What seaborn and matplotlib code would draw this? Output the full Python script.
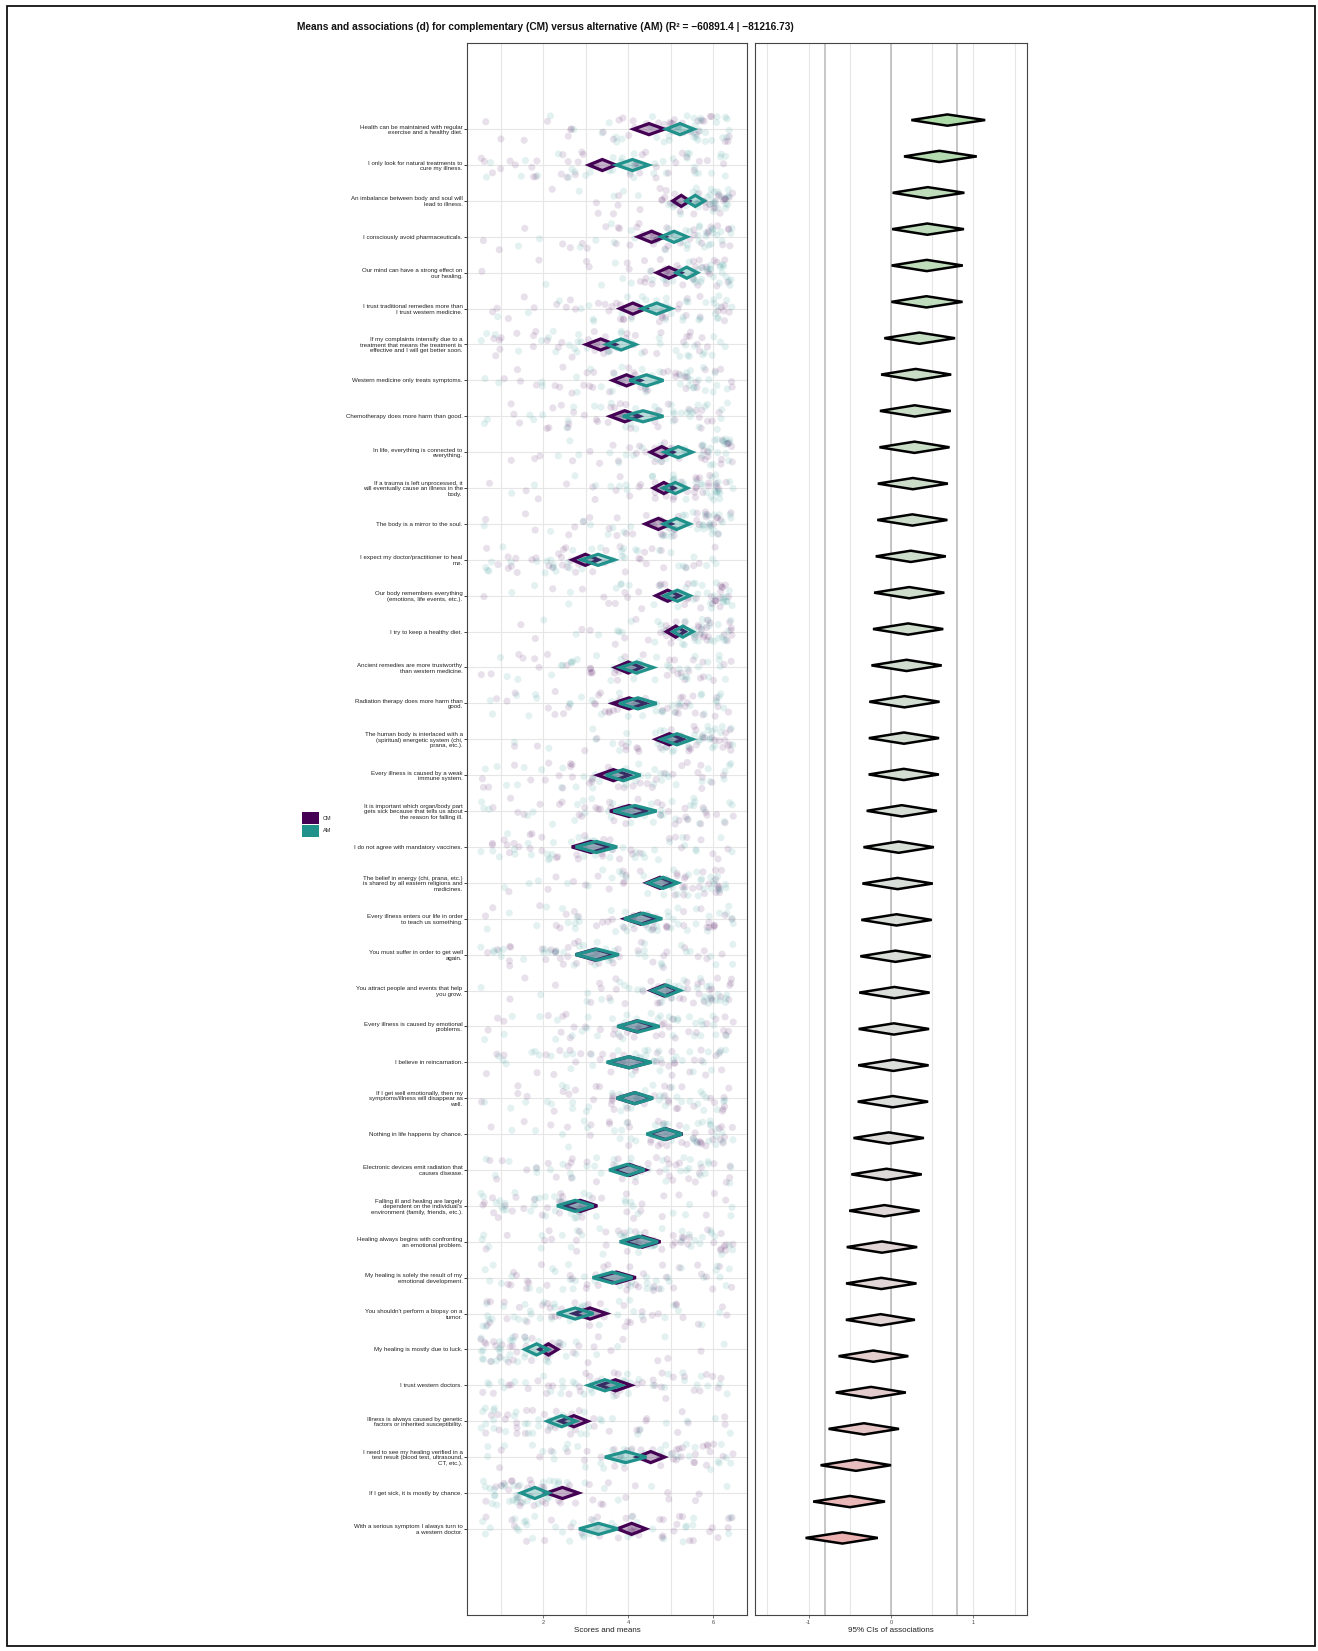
import numpy as np
import pandas as pd
import matplotlib
matplotlib.use("Agg")
import matplotlib.pyplot as plt
from matplotlib.patches import Polygon, Patch, Rectangle
from matplotlib.colors import LinearSegmentedColormap, TwoSlopeNorm, to_rgba
import seaborn as sns

sns.set_theme(style="white")
plt.rcParams["font.family"] = ["Liberation Sans", "DejaVu Sans"]
plt.rcParams["axes.unicode_minus"] = False

# ---------------------------------------------------------------- data
items = [
    "Health can be maintained with regular\nexercise and a healthy diet.",
    "I only look for natural treatments to\ncure my illness.",
    "An imbalance between body and soul will\nlead to illness.",
    "I consciously avoid pharmaceuticals.",
    "Our mind can have a strong effect on\nour healing.",
    "I trust traditional remedies more than\nI trust western medicine.",
    "If my complaints intensify due to a\ntreatment that means the treatment is\neffective and I will get better soon.",
    "Western medicine only treats symptoms.",
    "Chemotherapy does more harm than good.",
    "In life, everything is connected to\neverything.",
    "If a trauma is left unprocessed, it\nwill eventually cause an illness in the\nbody.",
    "The body is a mirror to the soul.",
    "I expect my doctor/practitioner to heal\nme.",
    "Our body remembers everything\n(emotions, life events, etc.).",
    "I try to keep a healthy diet.",
    "Ancient remedies are more trustworthy\nthan western medicine.",
    "Radiation therapy does more harm than\ngood.",
    "The human body is interlaced with a\n(spiritual) energetic system (chi,\nprana, etc.).",
    "Every illness is caused by a weak\nimmune system.",
    "It is important which organ/body part\ngets sick because that tells us about\nthe reason for falling ill.",
    "I do not agree with mandatory vaccines.",
    "The belief in energy (chi, prana, etc.)\nis shared by all eastern religions and\nmedicines.",
    "Every illness enters our life in order\nto teach us something.",
    "You must suffer in order to get well\nagain.",
    "You attract people and events that help\nyou grow.",
    "Every illness is caused by emotional\nproblems.",
    "I believe in reincarnation.",
    "If I get well emotionally, then my\nsymptoms/illness will disappear as\nwell.",
    "Nothing in life happens by chance.",
    "Electronic devices emit radiation that\ncauses disease.",
    "Falling ill and healing are largely\ndependent on the individual's\nenvironment (family, friends, etc.).",
    "Healing always begins with confronting\nan emotional problem.",
    "My healing is solely the result of my\nemotional development.",
    "You shouldn't perform a biopsy on a\ntumor.",
    "My healing is mostly due to luck.",
    "I trust western doctors.",
    "Illness is always caused by genetic\nfactors or inherited susceptibility.",
    "I need to see my healing verified in a\ntest result (blood test, ultrasound,\nCT, etc.).",
    "If I get sick, it is mostly by chance.",
    "With a serious symptom I always turn to\na western doctor.",
]

groups = ["CM", "AM"]
levels = [1, 2, 3, 4, 5, 6]

# group means and half-widths of their confidence intervals
cm_mean = [4.49, 3.39, 5.25, 4.55, 4.96, 4.11, 3.35, 3.96, 3.92, 4.79,
           4.84, 4.71, 2.99, 4.93, 5.12, 4.00, 4.02, 4.97, 3.65, 4.02,
           3.12, 4.75, 4.29, 3.22, 4.85, 4.20, 4.02, 4.15, 4.88, 4.03,
           2.87, 4.33, 3.72, 3.10, 2.12, 3.70, 2.72, 4.53, 2.45, 4.08]
am_mean = [5.22, 4.10, 5.58, 5.08, 5.38, 4.67, 3.83, 4.43, 4.35, 5.18,
           5.11, 5.14, 3.29, 5.16, 5.29, 4.20, 4.23, 5.15, 3.88, 4.16,
           3.25, 4.82, 4.35, 3.27, 4.90, 4.24, 4.02, 4.16, 4.85, 3.97,
           2.75, 4.25, 3.63, 2.75, 1.84, 3.45, 2.43, 3.94, 1.80, 3.30]
cm_ci = [0.365, 0.32, 0.20, 0.325, 0.29, 0.31, 0.345, 0.33, 0.35, 0.27,
         0.25, 0.31, 0.31, 0.28, 0.22, 0.31, 0.39, 0.32, 0.37, 0.45,
         0.45, 0.32, 0.38, 0.46, 0.32, 0.43, 0.50, 0.42, 0.40, 0.38,
         0.40, 0.43, 0.46, 0.39, 0.22, 0.37, 0.33, 0.33, 0.38, 0.34]
am_ci = [0.33, 0.38, 0.22, 0.31, 0.255, 0.35, 0.345, 0.40, 0.48, 0.33,
         0.29, 0.31, 0.39, 0.30, 0.235, 0.39, 0.44, 0.37, 0.41, 0.51,
         0.49, 0.35, 0.45, 0.51, 0.33, 0.50, 0.53, 0.43, 0.42, 0.42,
         0.43, 0.45, 0.47, 0.43, 0.28, 0.39, 0.34, 0.49, 0.33, 0.46]

# answer counts per response level (1..6) for each statement
cm_counts = [
    [2, 2, 4, 7, 11, 10], [6, 6, 7, 7, 6, 4], [0, 1, 2, 4, 10, 19], [2, 2, 4, 7, 10, 11],
    [1, 1, 2, 6, 11, 15], [3, 3, 5, 8, 9, 8], [6, 6, 7, 7, 6, 4], [3, 4, 6, 8, 8, 7],
    [3, 4, 6, 9, 7, 7], [1, 2, 3, 6, 10, 14], [1, 2, 3, 5, 10, 15], [1, 2, 4, 6, 10, 13],
    [7, 8, 8, 6, 4, 3], [1, 1, 2, 6, 11, 15], [1, 1, 2, 4, 10, 18], [3, 4, 6, 8, 8, 7],
    [3, 4, 6, 7, 9, 7], [1, 1, 2, 6, 11, 15], [4, 5, 7, 8, 6, 6], [3, 4, 6, 7, 9, 7],
    [7, 7, 8, 6, 4, 4], [1, 2, 3, 6, 11, 13], [2, 3, 5, 8, 9, 9], [6, 7, 8, 6, 5, 4],
    [1, 2, 3, 5, 10, 15], [3, 3, 5, 8, 9, 8], [3, 4, 6, 7, 9, 7], [3, 3, 5, 8, 9, 8],
    [1, 2, 3, 5, 10, 15], [3, 4, 6, 7, 9, 7], [8, 9, 8, 5, 3, 3], [2, 3, 5, 7, 10, 9],
    [4, 5, 7, 7, 7, 6], [7, 8, 7, 6, 5, 3], [14, 12, 5, 2, 2, 1], [4, 5, 7, 7, 7, 6],
    [9, 9, 8, 5, 3, 2], [2, 2, 4, 7, 10, 11], [11, 11, 7, 3, 2, 2], [3, 3, 6, 8, 9, 7],
]
am_counts = [
    [0, 1, 2, 4, 10, 19], [3, 3, 6, 8, 8, 8], [0, 0, 1, 3, 7, 25], [1, 1, 2, 4, 11, 17],
    [0, 1, 1, 3, 9, 22], [1, 2, 4, 6, 11, 12], [4, 4, 7, 7, 7, 7], [2, 2, 4, 8, 10, 10],
    [2, 3, 5, 7, 10, 9], [0, 1, 2, 5, 10, 18], [1, 1, 2, 4, 10, 18], [1, 1, 2, 4, 10, 18],
    [6, 7, 7, 7, 5, 4], [1, 1, 2, 4, 10, 18], [0, 1, 2, 4, 9, 20], [3, 3, 5, 8, 9, 8],
    [3, 3, 5, 7, 10, 8], [1, 1, 2, 4, 11, 17], [4, 4, 6, 8, 7, 7], [3, 3, 5, 8, 9, 8],
    [6, 7, 7, 7, 5, 4], [1, 2, 3, 6, 10, 14], [2, 3, 5, 7, 10, 9], [6, 7, 7, 7, 5, 4],
    [1, 1, 3, 6, 10, 15], [3, 3, 5, 7, 9, 9], [3, 4, 5, 8, 9, 7], [2, 4, 5, 8, 9, 8],
    [1, 2, 3, 6, 9, 15], [3, 4, 6, 8, 8, 7], [9, 9, 8, 5, 3, 2], [3, 3, 5, 7, 9, 9],
    [5, 5, 7, 7, 6, 6], [9, 9, 8, 5, 3, 2], [18, 11, 4, 1, 1, 1], [5, 6, 7, 8, 5, 5],
    [11, 11, 7, 3, 2, 2], [3, 4, 6, 8, 8, 7], [18, 12, 3, 1, 1, 1], [6, 7, 7, 7, 5, 4],
]

# standardized association d with 95% CI bounds
d_est = [0.684, 0.587, 0.446, 0.440, 0.434, 0.430, 0.344, 0.300, 0.288, 0.285,
         0.265, 0.259, 0.240, 0.221, 0.208, 0.189, 0.163, 0.157, 0.155, 0.131,
         0.093, 0.080, 0.067, 0.055, 0.042, 0.035, 0.029, 0.023, -0.028, -0.054,
         -0.080, -0.110, -0.118, -0.125, -0.215, -0.243, -0.328, -0.425, -0.498, -0.590]
d_lo = [0.247, 0.158, 0.020, 0.015, 0.008, 0.005, -0.081, -0.120, -0.134, -0.140,
        -0.160, -0.166, -0.185, -0.205, -0.218, -0.237, -0.263, -0.269, -0.271, -0.295,
        -0.334, -0.347, -0.360, -0.372, -0.385, -0.392, -0.398, -0.404, -0.455, -0.481,
        -0.507, -0.537, -0.545, -0.547, -0.636, -0.670, -0.757, -0.854, -0.944, -1.036]
d_hi = [1.142, 1.040, 0.890, 0.885, 0.871, 0.868, 0.777, 0.730, 0.725, 0.710,
        0.690, 0.684, 0.665, 0.647, 0.634, 0.615, 0.589, 0.583, 0.581, 0.557,
        0.520, 0.507, 0.494, 0.482, 0.469, 0.462, 0.456, 0.450, 0.399, 0.373,
        0.347, 0.317, 0.309, 0.290, 0.210, 0.180, 0.097, 0.000, -0.073, -0.160]

title = ("Means and associations (d) for complementary (CM) versus alternative (AM) "
         "(R\u00b2 = \u221260891.4 | \u221281216.73)")

colors = {"CM": "#440154", "AM": "#21918c"}

# ---------------------------------------------------------------- long table of answers
rows = []
for item, cc, ac in zip(items, cm_counts, am_counts):
    for g, counts in (("CM", cc), ("AM", ac)):
        for lev, n in zip(levels, counts):
            rows.extend([(item, g, lev)] * n)
df = pd.DataFrame(rows, columns=["item", "group", "score"])
# horizontal jitter around the discrete response levels
rng = np.random.default_rng(11)
df["score_j"] = df["score"] + rng.uniform(-0.48, 0.48, len(df))

# ---------------------------------------------------------------- figure
W, H = 1318, 1651
fig = plt.figure(figsize=(W / 100, H / 100), dpi=100)
fig.patch.set_facecolor("white")

def fx(px):
    return px / W

def fy(py):
    return 1 - py / H

ax1 = fig.add_axes([fx(467), fy(1615), fx(747) - fx(467), fy(43) - fy(1615)])
ax2 = fig.add_axes([fx(755), fy(1615), fx(1027) - fx(755), fy(43) - fy(1615)])

# jittered individual answers
np.random.seed(5)
sns.stripplot(data=df, x="score_j", y="item", hue="group", order=items,
              hue_order=groups, palette=colors, orient="h", jitter=0.37,
              size=5.1, alpha=0.12, linewidth=0, legend=False, ax=ax1, zorder=2)

# mean diamonds with CI width
hh = 0.155
for i in range(len(items)):
    for g, m, h in (("CM", cm_mean[i], cm_ci[i]), ("AM", am_mean[i], am_ci[i])):
        verts = [(m - h, i), (m, i - hh), (m + h, i), (m, i + hh)]
        ax1.add_patch(Polygon(verts, closed=True, facecolor=to_rgba(colors[g], 0.3),
                              edgecolor=colors[g], linewidth=2.3, joinstyle="miter",
                              zorder=4 if g == "CM" else 5))

n = len(items)
ax1.set_xlim(0.2, 6.8)
ax1.set_ylim(n - 1 + 2.4, -2.4)
ax1.set_xticks([2, 4, 6])
ax1.set_xticks([1, 3, 5], minor=True)
ax1.set_yticks(range(n))
ax1.set_yticklabels(items)
ax1.set_axisbelow(True)
ax1.grid(True, which="both", axis="x", color="#e6e6e6", linewidth=0.8)
ax1.grid(True, which="major", axis="y", color="#e6e6e6", linewidth=0.8)
ax1.tick_params(axis="y", labelsize=4.4, length=2.2, width=0.6, pad=1, colors="#222222",
                left=True)
ax1.tick_params(axis="x", which="major", labelsize=4, length=2, width=0.5, pad=1.5,
                colors="#444444", bottom=True)
ax1.tick_params(axis="x", which="minor", length=0)
for lbl in ax1.get_yticklabels():
    lbl.set_linespacing(1.15)
ax1.set_ylabel("")
ax1.set_xlabel("Scores and means", fontsize=5.8, labelpad=1.5, color="#222222")

# association diamonds
cmap = LinearSegmentedColormap.from_list("assoc", ["#eea8a8", "#dedede", "#acdba6"])
norm = TwoSlopeNorm(vcenter=0.0, vmin=-0.7, vmax=0.7)
hh2 = 0.155
for i in range(n):
    verts = [(d_lo[i], i), (d_est[i], i - hh2), (d_hi[i], i), (d_est[i], i + hh2)]
    ax2.add_patch(Polygon(verts, closed=True, facecolor=cmap(norm(d_est[i])),
                          edgecolor="black", linewidth=1.8, joinstyle="miter", zorder=4))
for v in (-0.8, 0.0, 0.8):
    ax2.axvline(v, color="#bdbdbd", linewidth=1.2, zorder=1)
ax2.set_xlim(-1.65, 1.65)
ax2.set_ylim(n - 1 + 2.12, -2.12)
ax2.set_xticks([-1, 0, 1])
ax2.set_xticks([-1.5, -0.5, 0.5, 1.5], minor=True)
ax2.set_yticks([])
ax2.set_axisbelow(True)
ax2.grid(True, which="both", axis="x", color="#e6e6e6", linewidth=0.8)
ax2.tick_params(axis="x", which="major", labelsize=4, length=2, width=0.5, pad=1.5,
                colors="#444444", bottom=True)
ax2.tick_params(axis="x", which="minor", length=0)
ax2.set_xlabel("95% CIs of associations", fontsize=5.8, labelpad=1.5, color="#222222")

for ax in (ax1, ax2):
    for s in ax.spines.values():
        s.set_color("#444444")
        s.set_linewidth(0.8)

# legend
handles = [Patch(facecolor=colors[g], edgecolor="none", label=g) for g in groups]
fig.legend(handles=handles, loc="upper left", bbox_to_anchor=(fx(302), fy(812)),
           frameon=False, fontsize=4, handlelength=3.0, handleheight=3.0,
           handletextpad=0.7, labelspacing=0.1, borderpad=0, borderaxespad=0)

fig.text(fx(297), fy(27), title, fontsize=7.3, fontweight="bold", ha="left",
         va="center", color="#111111")

# outer frame
fig.patches.append(Rectangle((fx(7), fy(1646)), fx(1315) - fx(7), fy(6) - fy(1646),
                             transform=fig.transFigure, fill=False,
                             edgecolor="#111111", linewidth=1.3))

fig.savefig("out.png", dpi=100)
